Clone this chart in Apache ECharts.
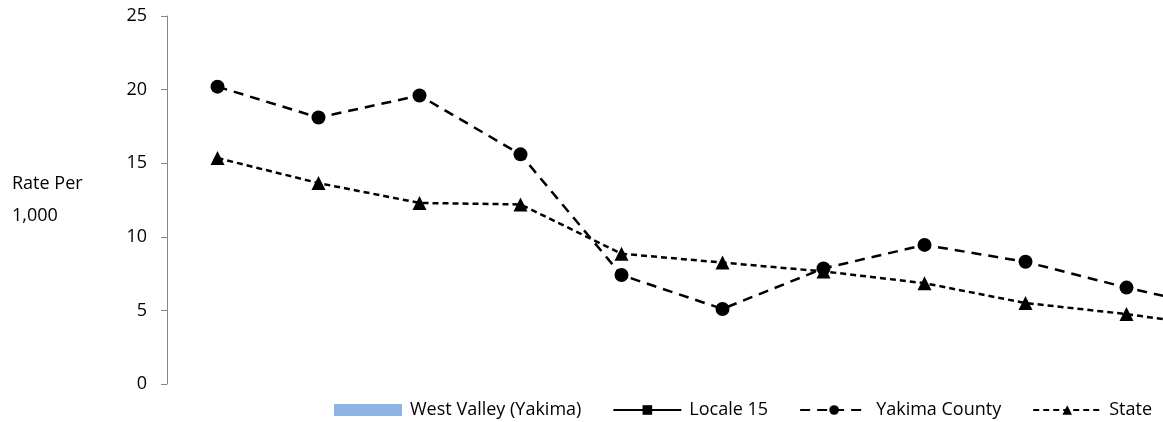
<!DOCTYPE html>
<html>
<head>
<meta charset="utf-8">
<script src="https://cdn.jsdelivr.net/npm/echarts@6/dist/echarts.min.js"></script>
<style>
html,body{margin:0;padding:0;background:#fff;}
#c{width:1163px;height:422px;}
</style>
</head>
<body>
<div id="c"></div>
<script>
const categories = ['1','2','3','4','5','6','7','8','9','10','11'];
const westValley = [null,null,null,null,null,null,null,null,null,null,null];
const locale15 = [null,null,null,null,null,null,null,null,null,null,null];
const yakimaCounty = [20.2, 18.1, 19.6, 15.6, 7.4, 5.1, 7.85, 9.45, 8.3, 6.55, 5.0];
const stateRate = [15.35, 13.65, 12.3, 12.2, 8.85, 8.25, 7.65, 6.85, 5.5, 4.75, 3.8];
const yTicks = [0, 5, 10, 15, 20, 25];

const FONT = '"Open Sans", sans-serif';
const chart = echarts.init(document.getElementById('c'), null, {renderer:'canvas'});
chart.setOption({
  animation: false,
  backgroundColor: '#ffffff',
  textStyle: {fontFamily: FONT},
  grid: {left: 167, top: 16, width: 1111, height: 368, containLabel: false, outerBoundsMode: 'none'},
  legend: {
    left: 334, top: 401, width: 828, padding: 0,
    itemWidth: 68, itemHeight: 12, itemGap: 31,
    textStyle: {fontFamily: FONT, fontSize: 18, color: '#000', padding: [0, 0, 0, 3]},
    data: [{name: 'West Valley (Yakima)', icon: 'rect'}, 'Locale 15', 'Yakima County', 'State']
  },
  xAxis: {
    type: 'category', data: categories, boundaryGap: true,
    axisLine: {show: false}, axisTick: {show: false}, axisLabel: {show: false},
    splitLine: {show: false}
  },
  yAxis: {
    type: 'value', min: yTicks[0], max: yTicks[yTicks.length-1], interval: 5,
    name: 'Rate Per\n1,000', nameLocation: 'middle', nameRotate: 0, nameGap: 155,
    nameTextStyle: {fontFamily: FONT, fontSize: 18, color: '#000', align: 'left', verticalAlign: 'middle', lineHeight: 32},
    axisLine: {show: true, lineStyle: {color: '#868686', width: 1}},
    axisTick: {show: true, length: 6, lineStyle: {color: '#868686'}},
    axisLabel: {fontFamily: FONT, fontSize: 18, color: '#000', margin: 20},
    splitLine: {show: false}
  },
  series: [
    {name: 'West Valley (Yakima)', type: 'bar', data: westValley, itemStyle: {color: '#8EB4E3'}},
    {name: 'Locale 15', type: 'line', data: locale15, symbol: 'rect', symbolSize: 12,
     itemStyle: {color: '#000'}, lineStyle: {color: '#000', width: 2.5}},
    {name: 'Yakima County', type: 'line', data: yakimaCounty, symbol: 'circle', symbolSize: 14,
     itemStyle: {color: '#000'}, lineStyle: {color: '#000', width: 2.5, type: [10, 7]}},
    {name: 'State', type: 'line', data: stateRate, symbol: 'triangle', symbolSize: 14,
     itemStyle: {color: '#000'}, lineStyle: {color: '#000', width: 2.5, type: [6, 4]}}
  ]
});
</script>
</body>
</html>
